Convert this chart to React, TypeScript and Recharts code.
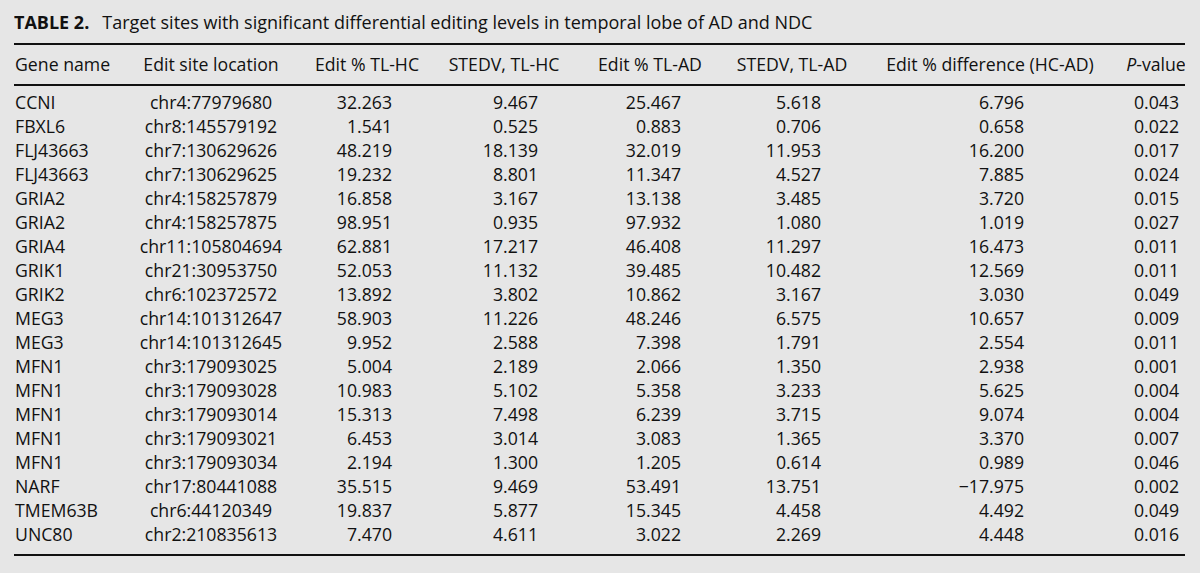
import React from 'react';
import { ScatterChart, Scatter, XAxis, YAxis, ReferenceLine } from 'recharts';

// ---------- data ----------
const titleBold = 'TABLE 2.';
const titleText = 'Target sites with significant differential editing levels in temporal lobe of AD and NDC';
const headers = ['Gene name', 'Edit site location', 'Edit % TL-HC', 'STEDV, TL-HC', 'Edit % TL-AD', 'STEDV, TL-AD', 'Edit % difference (HC-AD)', 'P-value'];
const genes = ['CCNI', 'FBXL6', 'FLJ43663', 'FLJ43663', 'GRIA2', 'GRIA2', 'GRIA4', 'GRIK1', 'GRIK2', 'MEG3', 'MEG3', 'MFN1', 'MFN1', 'MFN1', 'MFN1', 'MFN1', 'NARF', 'TMEM63B', 'UNC80'];
const locations = ['chr4:77979680', 'chr8:145579192', 'chr7:130629626', 'chr7:130629625', 'chr4:158257879', 'chr4:158257875', 'chr11:105804694', 'chr21:30953750', 'chr6:102372572', 'chr14:101312647', 'chr14:101312645', 'chr3:179093025', 'chr3:179093028', 'chr3:179093014', 'chr3:179093021', 'chr3:179093034', 'chr17:80441088', 'chr6:44120349', 'chr2:210835613'];
const editHC = [32.263, 1.541, 48.219, 19.232, 16.858, 98.951, 62.881, 52.053, 13.892, 58.903, 9.952, 5.004, 10.983, 15.313, 6.453, 2.194, 35.515, 19.837, 7.47];
const stdevHC = [9.467, 0.525, 18.139, 8.801, 3.167, 0.935, 17.217, 11.132, 3.802, 11.226, 2.588, 2.189, 5.102, 7.498, 3.014, 1.3, 9.469, 5.877, 4.611];
const editAD = [25.467, 0.883, 32.019, 11.347, 13.138, 97.932, 46.408, 39.485, 10.862, 48.246, 7.398, 2.066, 5.358, 6.239, 3.083, 1.205, 53.491, 15.345, 3.022];
const stdevAD = [5.618, 0.706, 11.953, 4.527, 3.485, 1.08, 11.297, 10.482, 3.167, 6.575, 1.791, 1.35, 3.233, 3.715, 1.365, 0.614, 13.751, 4.458, 2.269];
const diffHCAD = [6.796, 0.658, 16.2, 7.885, 3.72, 1.019, 16.473, 12.569, 3.03, 10.657, 2.554, 2.938, 5.625, 9.074, 3.37, 0.989, -17.975, 4.492, 4.448];
const pValues = [0.043, 0.022, 0.017, 0.024, 0.015, 0.027, 0.011, 0.011, 0.049, 0.009, 0.011, 0.001, 0.004, 0.004, 0.007, 0.046, 0.002, 0.049, 0.016];

// ---------- layout ----------
const W = 1200;
const H = 573;
const BG = '#e6e6e6';
const INK = '#111111';
const FONT = "'Open Sans', sans-serif";
const FS = 17.7;
const TITLE_FS = 18;
const ROW_H = 24;
const FIRST_ROW = 103;
const LEFT = 14;
const RIGHT = 1185;
const toRow = (px: number) => (px - FIRST_ROW) / ROW_H;
const Y_MIN = toRow(0);
const Y_MAX = toRow(H);
const TITLE_Y = toRow(23);
const TOP_RULE = toRow(44);
const HEADER_Y = toRow(65);
const HEAD_RULE = toRow(85);
const BOTTOM_RULE = toRow(555);

type Anchor = 'start' | 'middle' | 'end';
const colAnchor: { x: number; a: Anchor }[] = [
  { x: 15, a: 'start' },
  { x: 211, a: 'middle' },
  { x: 392, a: 'end' },
  { x: 538, a: 'end' },
  { x: 681, a: 'end' },
  { x: 821, a: 'end' },
  { x: 1024, a: 'end' },
  { x: 1179, a: 'end' },
];
const headAnchor: { x: number; a: Anchor }[] = [
  { x: 15, a: 'start' },
  { x: 211, a: 'middle' },
  { x: 367, a: 'middle' },
  { x: 504, a: 'middle' },
  { x: 650, a: 'middle' },
  { x: 792, a: 'middle' },
  { x: 990, a: 'middle' },
  { x: 1156, a: 'middle' },
];

const fmt = (v: number) => (v < 0 ? '\u2212' + Math.abs(v).toFixed(3) : v.toFixed(3));

const columns: string[][] = [
  genes,
  locations,
  editHC.map(fmt),
  stdevHC.map(fmt),
  editAD.map(fmt),
  stdevAD.map(fmt),
  diffHCAD.map(fmt),
  pValues.map(fmt),
];

type Cell = { x: number; y: number; label: string; anchor: Anchor; kind: string };

const cellData: Cell[][] = columns.map((col, c) =>
  col.map((label, i) => ({ x: colAnchor[c].x, y: i, label, anchor: colAnchor[c].a, kind: 'cell' }))
);
const headerData: Cell[] = headers.map((label, c) => ({
  x: headAnchor[c].x,
  y: HEADER_Y,
  label,
  anchor: headAnchor[c].a,
  kind: c === headers.length - 1 ? 'pval' : 'head',
}));
const titleData: Cell[] = [{ x: LEFT, y: TITLE_Y, label: titleText, anchor: 'start', kind: 'title' }];

const TextShape = (props: any) => {
  const { cx, cy, payload } = props;
  if (cx == null || cy == null || !payload) return <g />;
  const common = {
    x: cx,
    y: cy,
    dy: '0.36em',
    textAnchor: payload.anchor,
    fontFamily: FONT,
    fontSize: FS,
    fill: INK,
  } as any;
  if (payload.kind === 'title') {
    return (
      <text {...common} fontSize={TITLE_FS}>
        <tspan fontWeight={700}>{titleBold}</tspan>
        <tspan dx={13}>{payload.label}</tspan>
      </text>
    );
  }
  if (payload.kind === 'pval') {
    return (
      <text {...common}>
        <tspan fontStyle="italic">P</tspan>
        <tspan>-value</tspan>
      </text>
    );
  }
  return <text {...common}>{payload.label}</text>;
};

export default function App() {
  return (
    <div style={{ position: 'absolute', left: 0, top: 0, width: W, height: H, background: BG }}>
      <ScatterChart width={W} height={H} margin={{ top: 0, right: W - RIGHT, bottom: 0, left: LEFT }}>
        <XAxis type="number" dataKey="x" domain={[LEFT, RIGHT]} allowDataOverflow hide />
        <YAxis type="number" dataKey="y" domain={[Y_MIN, Y_MAX]} allowDataOverflow reversed hide width={0} />
        <ReferenceLine y={TOP_RULE} stroke={INK} strokeWidth={1.8} />
        <ReferenceLine y={HEAD_RULE} stroke={INK} strokeWidth={1.8} />
        <ReferenceLine y={BOTTOM_RULE} stroke={INK} strokeWidth={1.8} />
        <Scatter name="title" data={titleData} shape={TextShape} isAnimationActive={false} />
        <Scatter name="header" data={headerData} shape={TextShape} isAnimationActive={false} />
        {cellData.map((d, c) => (
          <Scatter key={c} name={headers[c]} data={d} shape={TextShape} isAnimationActive={false} />
        ))}
      </ScatterChart>
    </div>
  );
}
